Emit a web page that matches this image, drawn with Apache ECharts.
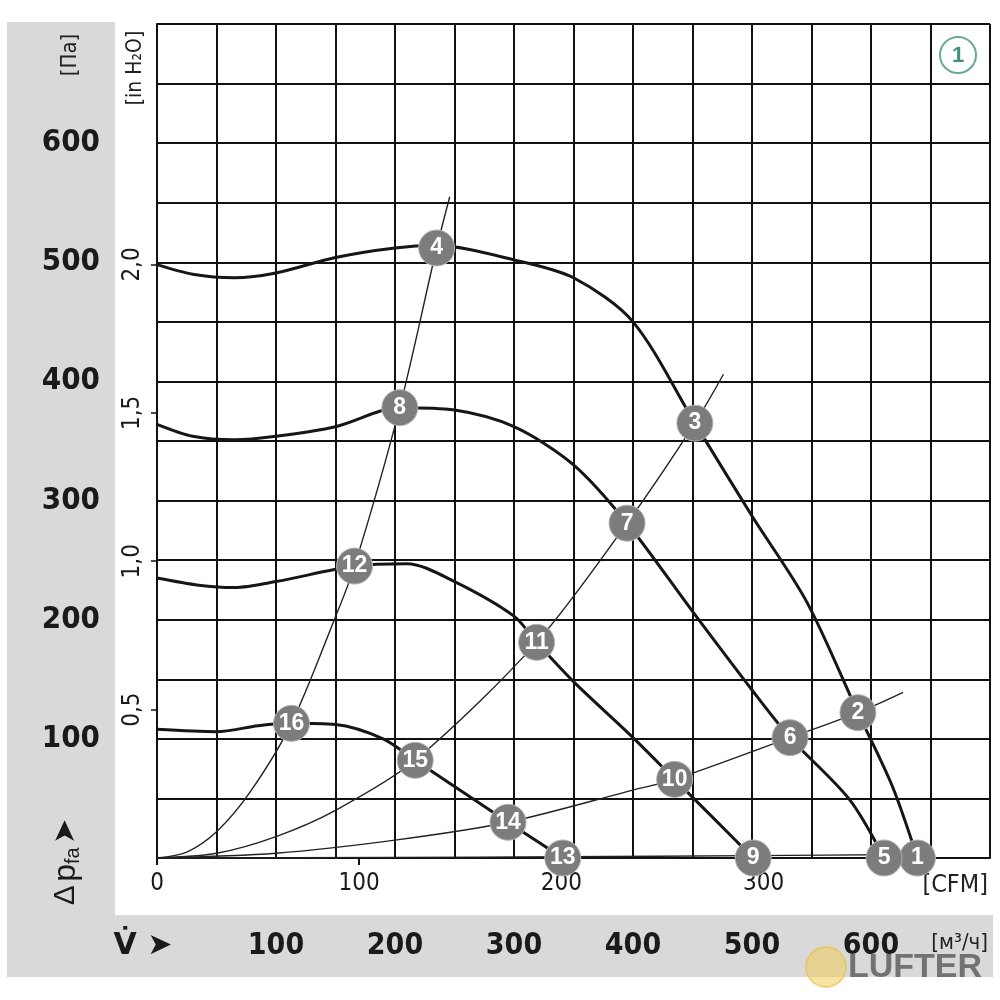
<!DOCTYPE html>
<html>
<head>
<meta charset="utf-8">
<script src="https://cdn.jsdelivr.net/npm/echarts@6/dist/echarts.min.js"></script>
<style>html,body{margin:0;padding:0;background:#fff}#c{width:1000px;height:1000px}</style>
</head>
<body>
<div id="c"></div>
<script>
// ---- data (flow in m³/h, pressure in Pa) ----
const m3hTicks = [100, 200, 300, 400, 500, 600];
const paTicks = [100, 200, 300, 400, 500, 600];
const cfmTicks = [0, 100, 200, 300];
const inh2oTicks = [0.5, 1, 1.5, 2];

const fanCurve1 = [[0,498],[30,490],[65,487],[100,491],[150,504],[200,512],[235,514],[300,502],[350,487],[400,450],[452,365],[500,287],[546,215],[589,122],[618,60],[639,0]];
const fanCurve2 = [[0,364],[30,354],[65,351],[100,354],[150,362],[204,378],[250,376],[300,362],[350,330],[395,281],[450,207],[500,141],[532,101],[582,49],[611,0]];
const fanCurve3 = [[0,235],[35,229],[65,227],[100,232],[166,245],[210,247],[250,232],[300,203],[319,181],[350,148],[400,101],[435,66],[501,0]];
const fanCurve4 = [[0,108],[50,106],[85,111],[113,113],[150,112],[190,100],[217,82],[295,30],[341,0]];

const sysCurve1 = [[0,0],[25,5],[50,22],[78,55],[113,113],[149,200],[166,245],[204,378],[235,512],[246,555]];
const sysCurve2 = [[0,0],[50,4],[100,18],[150,40],[217,82],[319,181],[395,281],[452,365],[476,406]];
const sysCurve3 = [[0,0],[100,4],[200,15],[295,30],[400,57],[435,66],[532,101],[589,122],[627,139]];
const sysCurve4 = [[0,0],[200,0.5],[341,1],[501,2],[639,3]];

const pointLabels   = ['1','2','3','4','5','6','7','8','9','10','11','12','13','14','15','16'];
const pointFlow     = [639, 589, 452, 235, 611, 532, 395, 204, 501, 435, 319, 166, 341, 295, 217, 113];
const pointPressure = [0,   122, 365, 512, 0,   101, 281, 378, 0,   66,  181, 245, 0,   30,  82,  113];

// ---- chart ----
const NARROW = "'Liberation Sans Narrow', 'DejaVu Sans Condensed', 'Liberation Sans', sans-serif";
const SANS = "'Liberation Sans', Arial, sans-serif";
const CFM_PER_M3H = 1 / 1.699;
const INH2O_PER_PA = 1 / 249.089;

const chart = echarts.init(document.getElementById('c'), null, {renderer: 'canvas'});

function fanSeries(d) {
  return {type: 'line', data: d, smooth: 0.3, symbol: 'none',
    lineStyle: {color: '#161616', width: 3}, z: 3, xAxisIndex: 0, yAxisIndex: 0};
}
function sysSeries(d) {
  return {type: 'line', data: d, smooth: 0.3, symbol: 'none',
    lineStyle: {color: '#222', width: 1.4}, z: 2, xAxisIndex: 0, yAxisIndex: 0};
}

const option = {
  backgroundColor: '#ffffff',
  animation: false,
  grid: {left: 157, top: 24, right: 10, bottom: 142, containLabel: false},
  xAxis: [
    {
      type: 'value', position: 'bottom', min: 0, max: 700, interval: 50,
      axisLine: {show: true, lineStyle: {color: '#111', width: 2}},
      axisTick: {show: false},
      splitLine: {show: true, lineStyle: {color: '#111', width: 2}},
      axisLabel: {
        customValues: m3hTicks, margin: 73,
        fontFamily: NARROW, fontWeight: 'bold', fontSize: 30, color: '#1a1a1a'
      }
    },
    {
      type: 'value', position: 'bottom', min: 0, max: 700 * CFM_PER_M3H, interval: 100,
      axisLine: {show: false},
      axisTick: {show: true, customValues: cfmTicks, length: 7, inside: false, lineStyle: {color: '#111', width: 2}},
      splitLine: {show: false},
      axisLabel: {customValues: cfmTicks, margin: 14, fontFamily: NARROW, fontSize: 24, color: '#1a1a1a'}
    }
  ],
  yAxis: [
    {
      type: 'value', position: 'left', min: 0, max: 700, interval: 50,
      axisLine: {show: true, lineStyle: {color: '#111', width: 2}},
      axisTick: {show: false},
      splitLine: {show: true, lineStyle: {color: '#111', width: 2}},
      axisLabel: {customValues: paTicks, margin: 57, fontFamily: NARROW, fontWeight: 'bold', fontSize: 31, color: '#1a1a1a'}
    },
    {
      type: 'value', position: 'left', min: 0, max: 700 * INH2O_PER_PA, interval: 0.5,
      axisLine: {show: false},
      axisTick: {show: true, customValues: inh2oTicks, length: 6, lineStyle: {color: '#111', width: 1.5}},
      splitLine: {show: false},
      axisLabel: {
        customValues: inh2oTicks, rotate: 90, margin: 12,
        fontFamily: NARROW, fontSize: 24, color: '#1a1a1a',
        formatter: v => v.toFixed(1).replace('.', ',')
      }
    }
  ],
  graphic: [
    {type: 'rect', z: -10, shape: {x: 7, y: 22, width: 108, height: 955}, style: {fill: '#d9d9d9'}},
    {type: 'rect', z: -10, shape: {x: 7, y: 915, width: 986, height: 62}, style: {fill: '#d9d9d9'}},
    {type: 'text', x: 70, y: 55, rotation: Math.PI / 2,
      style: {text: '[Па]', fontFamily: NARROW, fontSize: 22, fill: '#222', align: 'center', verticalAlign: 'middle'}},
    {type: 'text', x: 136, y: 68, rotation: Math.PI / 2,
      style: {text: '[in H₂O]', fontFamily: NARROW, fontSize: 21, fill: '#222', align: 'center', verticalAlign: 'middle'}},
    {type: 'text', x: 66, y: 862, rotation: Math.PI / 2,
      style: {
        text: '{d|Δ} {p|p}{s|fa} {a|➤}',
        align: 'center', verticalAlign: 'middle',
        rich: {
          d: {fontFamily: SANS, fontSize: 30, fill: '#1a1a1a'},
          p: {fontFamily: SANS, fontSize: 32, fill: '#1a1a1a'},
          s: {fontFamily: SANS, fontSize: 20, fill: '#1a1a1a', verticalAlign: 'bottom', padding: [14, 0, 0, 0]},
          a: {fontFamily: 'DejaVu Sans', fontSize: 30, fill: '#1a1a1a'}
        }
      }},
    {type: 'text', x: 143, y: 946,
      style: {text: 'V̇ ➤', fontFamily: 'DejaVu Sans', fontWeight: 'bold', fontSize: 30, fill: '#1a1a1a', align: 'center', verticalAlign: 'middle'}},
    {type: 'text', x: 988, y: 943,
      style: {text: '[м³/ч]', fontFamily: NARROW, fontSize: 22, fill: '#222', align: 'right', verticalAlign: 'middle'}},
    {type: 'text', x: 988, y: 885,
      style: {text: '[CFM]', fontFamily: NARROW, fontSize: 25, fill: '#222', align: 'right', verticalAlign: 'middle'}},
    {type: 'circle', shape: {cx: 958, cy: 55, r: 18}, style: {fill: '#fff', stroke: '#6aa89c', lineWidth: 2}},
    {type: 'text', x: 958, y: 56,
      style: {text: '1', fontFamily: SANS, fontWeight: 'bold', fontSize: 22, fill: '#3f8f7f', align: 'center', verticalAlign: 'middle'}},
    {type: 'circle', z: 5, shape: {cx: 826, cy: 967, r: 20}, style: {fill: 'rgba(240,205,90,0.55)', stroke: 'rgba(230,190,70,0.6)', lineWidth: 2}},
    {type: 'text', z: 5, x: 848, y: 968,
      style: {text: 'LUFTER', fontFamily: SANS, fontWeight: 'bold', fontSize: 34, fill: 'rgba(95,95,95,0.85)', align: 'left', verticalAlign: 'middle'}}
  ],
  series: [
    fanSeries(fanCurve1), fanSeries(fanCurve2), fanSeries(fanCurve3), fanSeries(fanCurve4),
    sysSeries(sysCurve1), sysSeries(sysCurve2), sysSeries(sysCurve3), sysSeries(sysCurve4),
    {
      type: 'scatter', xAxisIndex: 0, yAxisIndex: 0, clip: false, z: 10,
      symbol: 'circle', symbolSize: 36,
      itemStyle: {color: '#7c7c7c', opacity: 1, borderColor: '#b5b5b5', borderWidth: 1},
      label: {show: true, position: 'inside', formatter: p => p.name,
        color: '#ffffff', textBorderWidth: 0, textShadowBlur: 0, opacity: 1,
        fontFamily: SANS, fontWeight: 'bold', fontSize: 23},
      data: pointFlow.map((x, i) => ({name: pointLabels[i], value: [x, pointPressure[i]]}))
    }
  ]
};
chart.setOption(option);
</script>
</body>
</html>
